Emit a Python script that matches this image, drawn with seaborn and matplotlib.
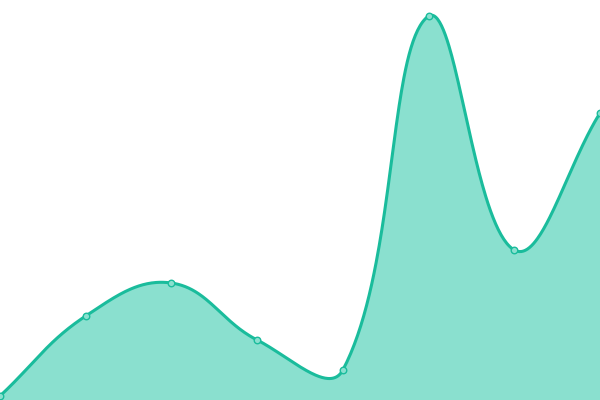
import numpy as np
import pandas as pd
import matplotlib
matplotlib.use("Agg")
import matplotlib.pyplot as plt
import seaborn as sns

# data
x_idx = [0, 1, 2, 3, 4, 5, 6, 7]
values = [4, 84, 117, 60, 30, 384, 150, 287]

LINE = "#1abc9c"
FILL = "#8ae0cf"
W, H = 600, 400
XMAX, YMAX = 7, 400


def spline(xs, ys, tension=0.4, n=80):
    # work in pixel space (chart-style tension spline)
    P = np.column_stack([np.asarray(xs, float) * W / XMAX,
                         np.asarray(ys, float) * H / YMAX])
    k = len(P)
    cp_prev = P.copy()
    cp_next = P.copy()
    for i in range(k):
        prev = P[i - 1] if i > 0 else P[i]
        nxt = P[i + 1] if i < k - 1 else P[i]
        d01 = np.hypot(*(P[i] - prev))
        d12 = np.hypot(*(nxt - P[i]))
        s = d01 + d12
        fa = tension * d01 / s if s else 0
        fb = tension * d12 / s if s else 0
        cp_prev[i] = P[i] - fa * (nxt - prev)
        cp_next[i] = P[i] + fb * (nxt - prev)
    cp_prev[:, 0] = np.clip(cp_prev[:, 0], 0, W)
    cp_next[:, 0] = np.clip(cp_next[:, 0], 0, W)
    cp_prev[:, 1] = np.clip(cp_prev[:, 1], 0, H)
    cp_next[:, 1] = np.clip(cp_next[:, 1], 0, H)
    out = []
    for i in range(k - 1):
        t = np.linspace(0, 1, n)[:, None]
        b = ((1 - t) ** 3 * P[i] + 3 * (1 - t) ** 2 * t * cp_next[i]
             + 3 * (1 - t) * t ** 2 * cp_prev[i + 1] + t ** 3 * P[i + 1])
        out.append(b if i == 0 else b[1:])
    out = np.vstack(out)
    return out[:, 0] * XMAX / W, out[:, 1] * YMAX / H


sx, sy = spline(x_idx, values)
curve = pd.DataFrame({"x": sx, "y": sy})
pts = pd.DataFrame({"x": x_idx, "y": values})

fig = plt.figure(figsize=(6, 4), dpi=100)
ax = fig.add_axes([0, 0, 1, 1])
ax.fill_between(curve["x"], curve["y"], 0, color=FILL, linewidth=0)
sns.lineplot(data=curve, x="x", y="y", ax=ax, color=LINE, linewidth=2.2,
             sort=False, estimator=None)
sns.scatterplot(data=pts, x="x", y="y", ax=ax, s=22, color=FILL,
                edgecolor=LINE, linewidth=1, zorder=5)
ax.set_xlim(0, XMAX)
ax.set_ylim(0, YMAX)
ax.axis("off")
fig.savefig("out.png", dpi=100, facecolor="white")
